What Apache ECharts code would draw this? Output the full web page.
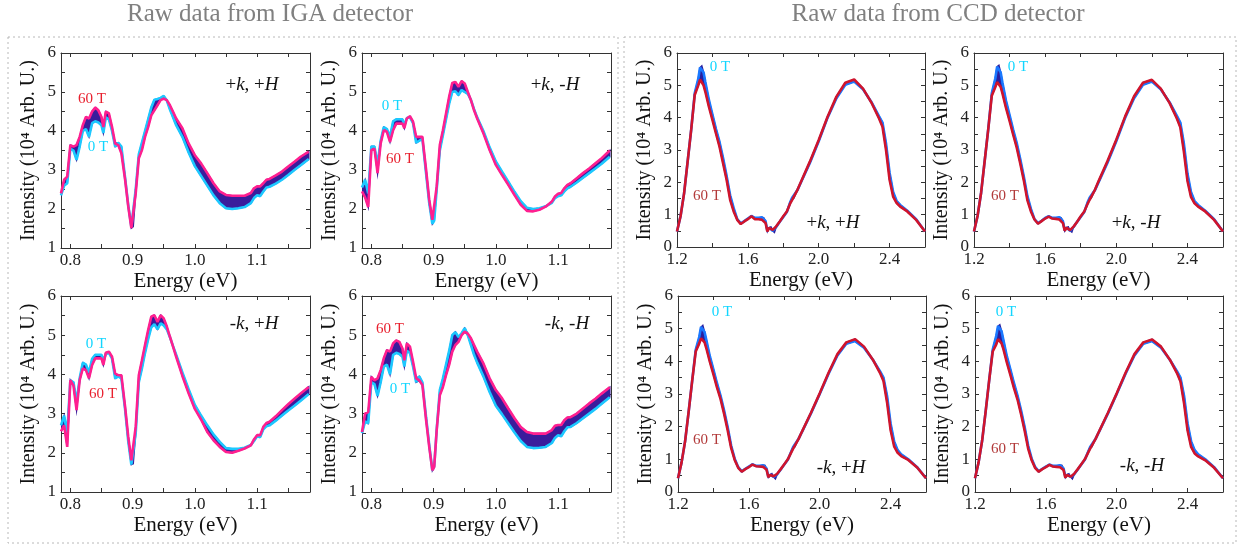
<!DOCTYPE html>
<html>
<head>
<meta charset="utf-8">
<script src="https://cdn.jsdelivr.net/npm/echarts@6/dist/echarts.min.js"></script>
<style>
  html, body { margin: 0; padding: 0; background: #fff; }
  #chart { width: 1247px; height: 548px; }
</style>
</head>
<body>
<div id="chart"></div>
<script>
// energy grids (eV)
var igaEnergy = [0.785,0.79,0.795,0.80,0.805,0.81,0.815,0.82,0.825,0.83,0.835,0.84,0.845,0.85,0.853,0.857,0.862,0.867,0.872,0.877,0.882,0.888,0.893,0.898,0.901,0.905,0.91,0.915,0.92,0.925,0.93,0.935,0.94,0.945,0.95,0.955,0.96,0.965,0.97,0.98,0.99,1.00,1.01,1.02,1.03,1.04,1.05,1.06,1.07,1.08,1.09,1.095,1.10,1.105,1.11,1.115,1.12,1.13,1.14,1.15,1.16,1.17,1.183];
var ccdEnergy = [1.20,1.22,1.24,1.26,1.28,1.30,1.32,1.33,1.34,1.35,1.36,1.38,1.40,1.42,1.44,1.46,1.48,1.50,1.52,1.54,1.56,1.58,1.60,1.62,1.64,1.66,1.68,1.69,1.70,1.71,1.72,1.73,1.74,1.75,1.76,1.78,1.80,1.82,1.84,1.85,1.86,1.88,1.90,1.95,2.00,2.05,2.10,2.15,2.20,2.25,2.30,2.34,2.36,2.38,2.40,2.42,2.44,2.46,2.50,2.55,2.60];

// IGA intensities (10^4 arb. u.), 0 T and 60 T
var igaPkPh0  = [2.35,2.60,2.66,3.55,3.50,3.26,3.60,4.00,4.05,3.85,4.20,4.25,4.22,4.15,3.95,4.35,4.30,4.00,3.60,3.70,3.60,2.80,2.10,1.55,1.60,2.50,3.40,3.70,4.00,4.30,4.60,4.80,4.82,4.85,4.90,4.78,4.55,4.35,4.15,3.85,3.45,3.10,2.85,2.60,2.35,2.15,2.02,2.00,2.02,2.05,2.15,2.28,2.35,2.33,2.45,2.55,2.57,2.65,2.75,2.87,3.00,3.12,3.28];
var igaPkPh60 = [2.40,2.75,2.83,3.64,3.60,3.64,3.85,4.15,4.36,4.32,4.50,4.60,4.53,4.36,4.10,4.50,4.45,4.10,3.68,3.64,3.43,2.75,2.07,1.51,1.55,2.40,3.30,3.51,3.85,4.10,4.40,4.53,4.66,4.79,4.83,4.79,4.66,4.49,4.32,4.07,3.68,3.38,3.17,2.92,2.66,2.45,2.36,2.34,2.34,2.34,2.41,2.53,2.58,2.58,2.66,2.75,2.77,2.86,2.96,3.09,3.21,3.34,3.47];
var igaPkMh0  = [2.55,2.75,2.40,3.60,3.60,3.15,3.75,4.10,4.05,3.85,4.25,4.30,4.30,4.30,4.15,4.33,4.35,4.20,3.70,3.75,3.80,2.90,2.15,1.62,1.70,2.50,3.50,3.90,4.30,4.70,5.00,5.02,4.92,5.05,5.00,4.95,4.80,4.56,4.35,4.00,3.58,3.22,2.96,2.70,2.44,2.20,2.03,2.00,2.02,2.07,2.16,2.28,2.33,2.35,2.45,2.53,2.57,2.68,2.80,2.92,3.04,3.16,3.34];
var igaPkMh60 = [2.45,2.30,2.05,3.51,3.55,2.92,3.68,4.02,3.98,3.72,4.02,4.19,4.19,4.19,4.07,4.32,4.38,4.24,3.85,3.85,3.85,3.00,2.24,1.72,1.77,2.58,3.64,4.02,4.45,4.88,5.23,5.26,5.13,5.28,5.22,5.00,4.79,4.53,4.32,3.94,3.51,3.13,2.87,2.62,2.36,2.11,1.95,1.94,1.98,2.06,2.19,2.32,2.39,2.41,2.53,2.62,2.66,2.79,2.92,3.04,3.17,3.30,3.50];
var igaMkPh0  = [2.70,2.95,2.50,3.85,3.80,3.30,3.90,4.30,4.25,4.05,4.40,4.50,4.50,4.50,4.35,4.52,4.55,4.40,3.90,3.95,3.90,3.10,2.30,1.70,1.72,2.50,3.80,4.15,4.55,4.90,5.20,5.28,5.15,5.30,5.25,5.15,4.95,4.72,4.50,4.05,3.62,3.22,2.95,2.70,2.47,2.28,2.12,2.10,2.10,2.13,2.20,2.30,2.42,2.40,2.60,2.68,2.70,2.82,2.95,3.08,3.20,3.33,3.50];
var igaMkPh60 = [2.55,2.70,2.15,3.85,3.72,3.09,3.85,4.15,4.11,3.90,4.24,4.41,4.41,4.41,4.24,4.55,4.58,4.45,4.02,3.98,3.98,3.17,2.41,1.81,1.81,2.66,3.98,4.36,4.75,5.13,5.47,5.51,5.34,5.51,5.43,5.22,4.96,4.71,4.45,3.96,3.52,3.12,2.85,2.53,2.32,2.15,2.02,2.00,2.05,2.11,2.19,2.34,2.45,2.45,2.66,2.76,2.79,2.93,3.09,3.24,3.38,3.51,3.68];
var igaMkMh0  = [2.50,2.80,2.75,3.80,3.75,3.45,3.80,4.20,4.25,4.00,4.50,4.55,4.52,4.45,4.20,4.60,4.55,4.20,3.80,3.95,3.80,2.90,2.20,1.55,1.65,2.60,3.60,3.90,4.25,4.60,5.00,5.08,4.95,5.05,5.18,5.00,4.75,4.50,4.30,3.95,3.55,3.20,2.98,2.75,2.52,2.30,2.15,2.12,2.13,2.15,2.25,2.38,2.45,2.42,2.55,2.65,2.66,2.76,2.88,3.00,3.12,3.25,3.42];
var igaMkMh60 = [2.53,3.00,3.04,3.94,3.85,3.90,4.11,4.41,4.62,4.58,4.79,4.87,4.83,4.66,4.36,4.79,4.71,4.32,3.90,3.85,3.73,2.83,2.15,1.55,1.64,2.58,3.47,3.68,3.98,4.24,4.58,4.75,4.83,5.00,5.09,5.04,4.92,4.75,4.58,4.28,3.90,3.60,3.39,3.13,2.88,2.66,2.53,2.49,2.49,2.49,2.58,2.69,2.71,2.71,2.83,2.90,2.91,3.00,3.13,3.26,3.38,3.51,3.67];

// CCD intensities
var ccdPkPh0  = [0.48,0.95,1.66,2.64,3.62,4.75,5.20,5.55,5.60,5.40,5.10,4.55,4.10,3.65,3.25,2.75,2.20,1.60,1.20,0.86,0.73,0.80,0.88,0.96,0.90,0.90,0.92,0.90,0.80,0.50,0.60,0.62,0.50,0.45,0.62,0.78,0.93,1.08,1.40,1.52,1.52,1.76,2.00,2.60,3.27,4.00,4.60,5.02,5.12,4.88,4.46,4.05,3.85,3.20,2.30,1.70,1.42,1.30,1.12,0.86,0.48];
var ccdPkPh60 = [0.48,0.95,1.66,2.64,3.62,4.70,5.00,5.18,5.16,5.00,4.80,4.34,3.93,3.51,3.10,2.59,2.08,1.46,1.10,0.84,0.71,0.79,0.86,0.95,0.86,0.86,0.84,0.82,0.74,0.48,0.59,0.62,0.53,0.51,0.64,0.79,0.95,1.10,1.36,1.46,1.51,1.77,2.02,2.64,3.31,4.03,4.65,5.08,5.18,4.90,4.44,3.98,3.72,3.00,2.08,1.56,1.36,1.25,1.10,0.84,0.48];
var ccdPkMh0  = [0.48,0.96,1.68,2.66,3.64,4.75,5.22,5.58,5.62,5.40,5.08,4.52,4.08,3.63,3.22,2.72,2.18,1.58,1.18,0.86,0.74,0.81,0.90,0.95,0.90,0.90,0.92,0.90,0.80,0.52,0.60,0.62,0.50,0.46,0.62,0.78,0.93,1.08,1.40,1.52,1.53,1.76,2.00,2.60,3.27,4.00,4.60,5.02,5.12,4.88,4.47,4.06,3.85,3.20,2.28,1.70,1.42,1.30,1.12,0.86,0.48];
var ccdPkMh60 = [0.48,0.96,1.68,2.66,3.64,4.68,4.95,5.10,5.08,4.95,4.75,4.30,3.90,3.48,3.08,2.58,2.06,1.45,1.10,0.85,0.72,0.80,0.88,0.94,0.88,0.87,0.85,0.83,0.74,0.50,0.60,0.62,0.52,0.50,0.63,0.78,0.95,1.10,1.35,1.46,1.52,1.77,2.03,2.65,3.32,4.04,4.66,5.08,5.17,4.90,4.45,3.98,3.70,2.95,2.05,1.55,1.35,1.25,1.10,0.84,0.48];
var ccdMkPh0  = [0.42,0.90,1.55,2.45,3.40,4.35,4.75,5.05,5.10,4.90,4.65,4.15,3.75,3.33,2.95,2.50,2.00,1.42,1.02,0.76,0.63,0.71,0.78,0.85,0.80,0.80,0.82,0.82,0.72,0.46,0.53,0.56,0.46,0.40,0.54,0.69,0.84,0.99,1.25,1.38,1.40,1.62,1.84,2.40,3.00,3.62,4.18,4.54,4.62,4.42,4.05,3.70,3.50,2.95,2.10,1.55,1.28,1.15,1.00,0.76,0.42];
var ccdMkPh60 = [0.42,0.90,1.55,2.45,3.40,4.30,4.55,4.70,4.72,4.58,4.40,3.98,3.60,3.20,2.85,2.40,1.90,1.35,0.98,0.74,0.62,0.70,0.76,0.84,0.79,0.78,0.77,0.76,0.68,0.45,0.52,0.56,0.48,0.45,0.56,0.70,0.85,1.00,1.22,1.33,1.38,1.62,1.85,2.42,3.02,3.65,4.22,4.58,4.68,4.45,4.05,3.65,3.40,2.75,1.90,1.40,1.20,1.10,0.98,0.75,0.42];
var ccdMkMh0  = [0.42,0.90,1.56,2.46,3.42,4.36,4.78,5.08,5.12,4.92,4.66,4.15,3.75,3.33,2.95,2.50,2.00,1.42,1.02,0.76,0.63,0.71,0.78,0.84,0.80,0.80,0.82,0.82,0.72,0.46,0.53,0.56,0.46,0.40,0.54,0.69,0.84,0.99,1.25,1.38,1.40,1.62,1.84,2.40,3.00,3.62,4.18,4.54,4.62,4.42,4.05,3.70,3.50,2.95,2.10,1.55,1.28,1.15,1.00,0.76,0.42];
var ccdMkMh60 = [0.42,0.90,1.56,2.46,3.42,4.30,4.52,4.68,4.70,4.55,4.38,3.96,3.58,3.18,2.83,2.38,1.88,1.33,0.97,0.73,0.62,0.70,0.76,0.83,0.78,0.77,0.76,0.75,0.67,0.44,0.52,0.55,0.47,0.44,0.56,0.70,0.85,1.00,1.22,1.33,1.38,1.62,1.85,2.42,3.02,3.65,4.22,4.58,4.67,4.45,4.05,3.64,3.38,2.72,1.88,1.38,1.18,1.09,0.97,0.74,0.42];

// tick values
var igaXTicks = [0.8,0.85,0.9,0.95,1.0,1.05,1.1,1.15];
var igaXLabels = [0.8,0.9,1.0,1.1];
var igaYTicks = [1,1.5,2,2.5,3,3.5,4,4.5,5,5.5,6];
var igaYLabels = [1,2,3,4,5,6];
var ccdXTicks = [1.2,1.4,1.6,1.8,2.0,2.2,2.4,2.6];
var ccdXLabels = [1.2,1.6,2.0,2.4];
var ccdYTicks = [0,0.5,1,1.5,2,2.5,3,3.5,4,4.5,5,5.5,6];
var ccdYLabels = [0,1,2,3,4,5,6];

var FONT = 'Liberation Serif';
var CYAN = '#12d6ff';

var iga = {xMin: 0.785, xMax: 1.185, yMin: 1, yMax: 6, x: igaEnergy,
  xTicks: igaXTicks, xLabels: igaXLabels, yTicks: igaYTicks, yLabels: igaYLabels,
  c0: '#1cc8ff', c60: '#ff1f8f', band: '#3a1c9c', mid: '#8a2ad0', lab60: '#e8202e'};
var ccd = {xMin: 1.2, xMax: 2.6, yMin: 0, yMax: 6, x: ccdEnergy,
  xTicks: ccdXTicks, xLabels: ccdXLabels, yTicks: ccdYTicks, yLabels: ccdYLabels,
  c0: '#1a78ff', c60: '#d0142c', band: '#2a1f9e', mid: '#c020b0', lab60: '#b23a3a'};

var panels = [
  {kind: iga, y0: igaPkPh0, y60: igaPkPh60, box: [61, 53, 249, 195], tag: '+{i|k}, +{i|H}', tagAt: [252, 85], at0: [98, 147], at60: [92, 99]},
  {kind: iga, y0: igaPkMh0, y60: igaPkMh60, box: [362, 53, 249, 195], tag: '+{i|k}, -{i|H}', tagAt: [555, 85], at0: [392, 106], at60: [400, 159]},
  {kind: ccd, y0: ccdPkPh0, y60: ccdPkPh60, box: [677, 53, 248, 194], tag: '+{i|k}, +{i|H}', tagAt: [833, 223], at0: [720, 67], at60: [707, 196]},
  {kind: ccd, y0: ccdPkMh0, y60: ccdPkMh60, box: [974, 53, 249, 194], tag: '+{i|k}, -{i|H}', tagAt: [1136, 223], at0: [1018, 67], at60: [1005, 196]},
  {kind: iga, y0: igaMkPh0, y60: igaMkPh60, box: [61, 296, 249, 196], tag: '-{i|k}, +{i|H}', tagAt: [254, 324], at0: [96, 344], at60: [103, 394]},
  {kind: iga, y0: igaMkMh0, y60: igaMkMh60, box: [362, 296, 249, 196], tag: '-{i|k}, -{i|H}', tagAt: [567, 324], at0: [400, 389], at60: [390, 329]},
  {kind: ccd, y0: ccdMkPh0, y60: ccdMkPh60, box: [678, 296, 248, 196], tag: '-{i|k}, +{i|H}', tagAt: [841, 468], at0: [722, 312], at60: [707, 440]},
  {kind: ccd, y0: ccdMkMh0, y60: ccdMkMh60, box: [975, 296, 248, 196], tag: '-{i|k}, -{i|H}', tagAt: [1142, 466], at0: [1006, 312], at60: [1005, 449]}
];

var grid = [], xAxis = [], yAxis = [], series = [], graphic = [];

function fmt1(v) { return Number(v).toFixed(1); }

// band between the 0 T and 60 T spectra, filled as one polygon through the axes
function bandRenderer(xs, ya, yb, color) {
  return function (params, api) {
    var top = [], bottom = [];
    for (var j = 0; j < xs.length; j++) {
      top.push(api.coord([xs[j], Math.max(ya[j], yb[j])]));
      bottom.push(api.coord([xs[j], Math.min(ya[j], yb[j])]));
    }
    return {type: 'polygon', shape: {points: top.concat(bottom.reverse())},
      style: {fill: color, stroke: color, lineWidth: 1.5}};
  };
}

panels.forEach(function (p, i) {
  var k = p.kind;
  grid.push({left: p.box[0], top: p.box[1], width: p.box[2], height: p.box[3], containLabel: false});
  var line = {show: true, onZero: false, lineStyle: {color: '#333', width: 1}};
  var tick = {show: true, inside: true, length: 4, lineStyle: {color: '#333'}};
  xAxis.push({
    type: 'value', gridIndex: i, min: k.xMin, max: k.xMax, position: 'bottom',
    axisLine: line, splitLine: {show: false},
    axisTick: Object.assign({customValues: k.xTicks}, tick),
    axisLabel: {customValues: k.xLabels, formatter: fmt1, color: '#222', fontFamily: FONT, fontSize: 17, margin: 4},
    name: 'Energy (eV)', nameLocation: 'middle', nameGap: 23,
    nameTextStyle: {fontFamily: FONT, fontSize: 21, color: '#111'}
  });
  xAxis.push({
    type: 'value', gridIndex: i, min: k.xMin, max: k.xMax, position: 'top',
    axisLine: line, splitLine: {show: false},
    axisTick: Object.assign({customValues: k.xTicks}, tick), axisLabel: {show: false}
  });
  yAxis.push({
    type: 'value', gridIndex: i, min: k.yMin, max: k.yMax, position: 'left',
    axisLine: line, splitLine: {show: false},
    axisTick: Object.assign({customValues: k.yTicks}, tick),
    axisLabel: {customValues: k.yLabels, color: '#222', fontFamily: FONT, fontSize: 17, margin: 5},
    name: 'Intensity (10\u2074 Arb. U.)', nameLocation: 'middle', nameGap: 22,
    nameTextStyle: {fontFamily: FONT, fontSize: 20, color: '#111'}
  });
  yAxis.push({
    type: 'value', gridIndex: i, min: k.yMin, max: k.yMax, position: 'right',
    axisLine: line, splitLine: {show: false},
    axisTick: Object.assign({customValues: k.yTicks}, tick), axisLabel: {show: false}
  });

  var xi = 2 * i, yi = 2 * i;
  series.push({type: 'custom', xAxisIndex: xi, yAxisIndex: yi, z: 1, silent: true,
    data: [[k.x[0], p.y0[0]]], clip: true,
    renderItem: bandRenderer(k.x, p.y0, p.y60, k.band)});
  series.push({type: 'line', name: '0 T', xAxisIndex: xi, yAxisIndex: yi, z: 2,
    data: p.y0.map(function (v, j) { return [k.x[j], v]; }),
    symbol: 'none', lineStyle: {color: k.c0, width: 2.6}});
  series.push({type: 'line', name: '60 T', xAxisIndex: xi, yAxisIndex: yi, z: 3,
    data: p.y60.map(function (v, j) { return [k.x[j], v]; }),
    symbol: 'none', lineStyle: {color: k.c60, width: 2.6}});

  graphic.push({type: 'text', x: p.tagAt[0], y: p.tagAt[1], z: 10, style: {
    text: p.tag, fontFamily: FONT, fontSize: 19, fill: '#111', align: 'center', verticalAlign: 'middle',
    rich: {i: {fontStyle: 'italic', fontFamily: FONT, fontSize: 19, fill: '#111'}}
  }});
  graphic.push({type: 'text', x: p.at0[0], y: p.at0[1], z: 10, style: {
    text: '0 T', fontFamily: FONT, fontSize: 15, fill: CYAN, align: 'center', verticalAlign: 'middle'}});
  graphic.push({type: 'text', x: p.at60[0], y: p.at60[1], z: 10, style: {
    text: '60 T', fontFamily: FONT, fontSize: 15, fill: k.lab60, align: 'center', verticalAlign: 'middle'}});
});

// group frames and headings
graphic.push({type: 'rect', shape: {x: 8, y: 37, width: 610, height: 506}, z: 0,
  style: {fill: null, stroke: '#b8b8b8', lineWidth: 1, lineDash: [2, 3]}});
graphic.push({type: 'rect', shape: {x: 624, y: 37, width: 612, height: 506}, z: 0,
  style: {fill: null, stroke: '#b8b8b8', lineWidth: 1, lineDash: [2, 3]}});
graphic.push({type: 'text', x: 270, y: 14, style: {text: 'Raw data from IGA detector',
  fontFamily: FONT, fontSize: 25, fill: '#808080', align: 'center', verticalAlign: 'middle'}});
graphic.push({type: 'text', x: 938, y: 14, style: {text: 'Raw data from CCD detector',
  fontFamily: FONT, fontSize: 25, fill: '#808080', align: 'center', verticalAlign: 'middle'}});

var chart = echarts.init(document.getElementById('chart'));
chart.setOption({
  animation: false,
  backgroundColor: '#fff',
  grid: grid, xAxis: xAxis, yAxis: yAxis, series: series, graphic: graphic
});
</script>
</body>
</html>
